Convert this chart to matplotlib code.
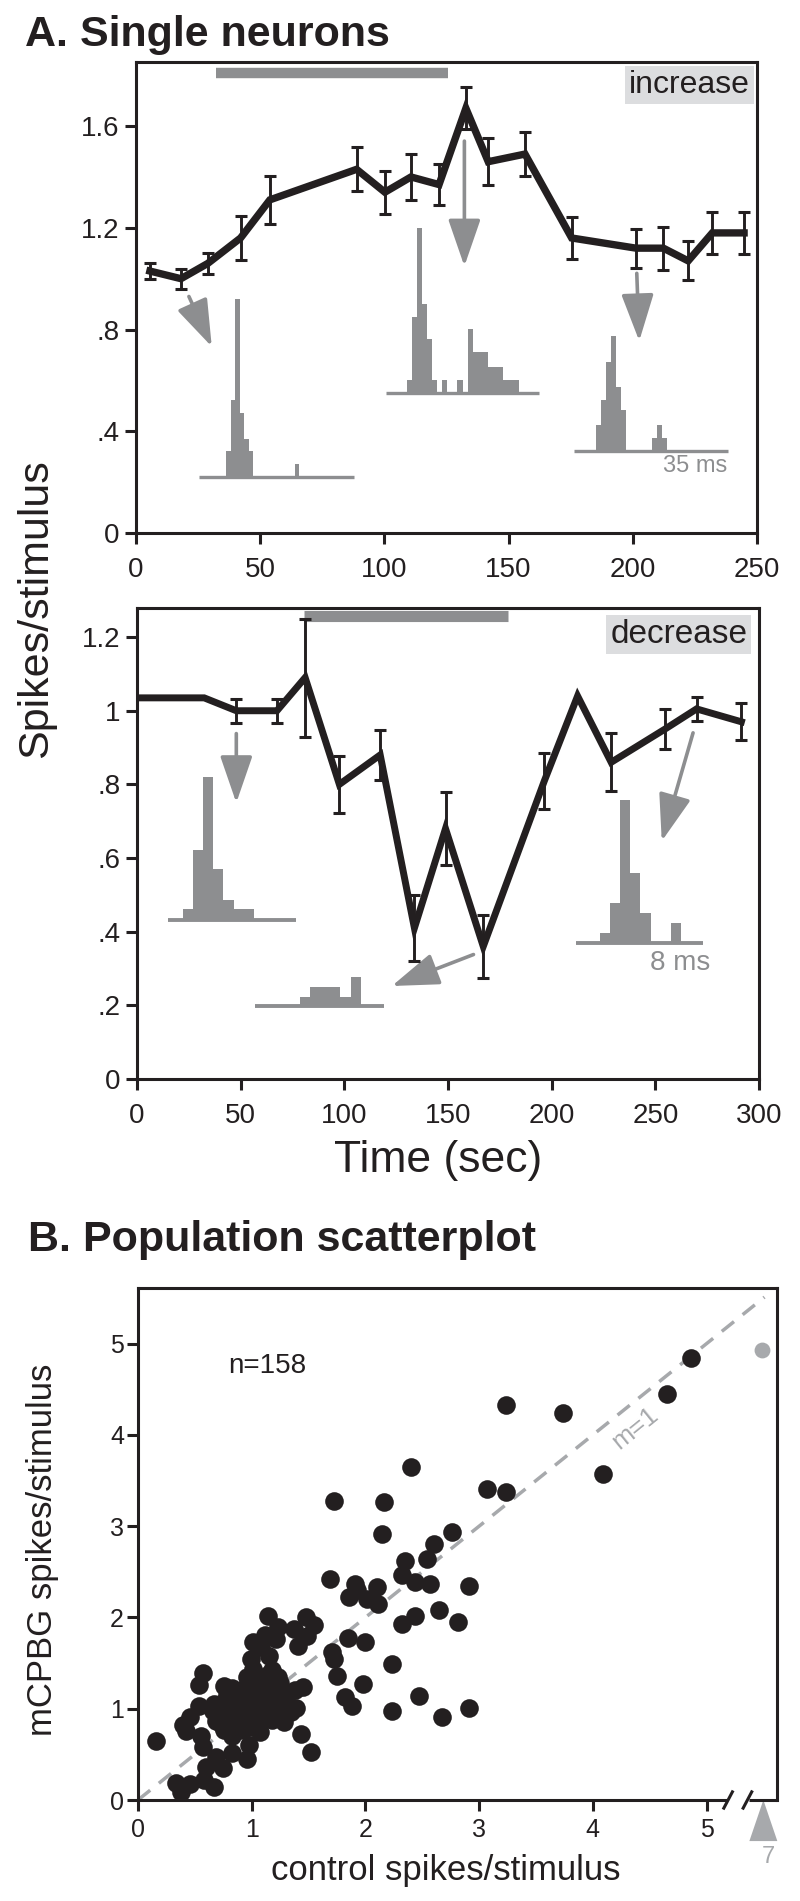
import numpy as np
import matplotlib
matplotlib.use('Agg')
import matplotlib.pyplot as plt
from matplotlib import rcParams
from matplotlib.patches import Polygon

# global style
config = {
    "font.family": ['Liberation Sans', 'DejaVu Sans'],
    "font.size": 20,
    "axes.linewidth": 2.2,
    "xtick.major.width": 2.2,
    "ytick.major.width": 2.2,
    "xtick.major.size": 8,
    "ytick.major.size": 8,
    "xtick.direction": 'out',
    "ytick.direction": 'out',
    "axes.unicode_minus": False,
}
rcParams.update(config)

BLACK = '#231f20'
GRAY = '#8d8e90'
LIGHT = '#a7a9ac'
BOX = '#dcdddf'

# ---- A, upper: "increase" neuron ----
t_inc = [5.6, 18.1, 28.9, 42.1, 53.9, 88.8, 100.2, 110.7, 122.0, 132.8,
         141.8, 156.6, 175.4, 201.3, 212.3, 222.3, 232.0, 244.8]
y_inc = [1.03, 1.00, 1.06, 1.16, 1.31, 1.43, 1.34, 1.40, 1.37, 1.67,
         1.46, 1.49, 1.16, 1.12, 1.12, 1.07, 1.18, 1.18]
e_inc = [0.03, 0.04, 0.04, 0.085, 0.095, 0.087, 0.085, 0.092, 0.082, 0.082,
         0.093, 0.085, 0.082, 0.077, 0.085, 0.077, 0.084, 0.084]
stim_inc = (32.1, 125.5)

# PSTH insets (upper): bar heights in spikes/stimulus units
hist_inc1 = [0.10, 0.30, 0.70, 0.25, 0.15, 0.10, 0, 0, 0, 0, 0, 0, 0, 0, 0, 0.05]
hist_inc2 = [0.05, 0.30, 0.65, 0.35, 0.21, 0.05, 0, 0.05, 0, 0, 0.05, 0, 0.25,
             0.16, 0.16, 0.16, 0.10, 0.10, 0.10, 0.05, 0.05, 0.05]
hist_inc3 = [0.10, 0.20, 0.35, 0.45, 0.25, 0.16, 0, 0, 0, 0, 0, 0.05, 0.10, 0.05]

# ---- A, lower: "decrease" neuron ----
t_dec = [0, 32.4, 47.9, 67.5, 81.1, 97.6, 117.3, 133.8, 148.8, 167.0,
         196.5, 212.5, 228.7, 254.6, 269.9, 291.5]
y_dec = [1.035, 1.035, 1.0, 1.0, 1.09, 0.80, 0.88, 0.41, 0.68, 0.36,
         0.81, 1.04, 0.86, 0.95, 1.005, 0.97]
e_dec = [0, 0, 0.032, 0.032, 0.16, 0.077, 0.069, 0.089, 0.10, 0.085,
         0.076, 0, 0.079, 0.055, 0.033, 0.05]
stim_dec = (80.4, 178.9)

hist_dec1 = [0.03, 0.19, 0.39, 0.14, 0.055, 0.03, 0.03]
hist_dec2 = [0.025, 0.054, 0.054, 0.054, 0.025, 0.08]
hist_dec3 = [0.027, 0.108, 0.388, 0.191, 0.081, 0, 0, 0.054]

# ---- B: population scatter ----
ctrl = [4.86, 4.65, 3.24, 3.74, 4.09, 2.40, 3.07, 3.24, 1.72, 2.16, 2.15, 2.76, 2.60,
        2.35, 2.54, 2.32, 2.44, 2.57, 2.91, 1.69, 1.91, 1.93, 1.86, 2.10, 2.01, 2.11,
        2.44, 2.32, 2.65, 2.81, 1.85, 2.00, 1.71, 1.72, 1.75, 2.23, 1.98, 1.82, 1.88,
        2.47, 2.23, 2.67, 2.91,
        1.48, 1.55, 1.37, 1.41, 1.49, 1.45, 1.39, 1.43, 1.52, 1.38,
        1.14, 1.23, 1.21, 1.12, 1.15, 1.01, 0.99, 1.01, 1.08, 1.15, 1.03, 1.24, 1.28,
        1.28, 1.12, 0.96, 0.98, 1.07, 0.90, 0.99, 0.92,
        0.16, 0.40, 0.46, 0.42, 0.54, 0.57, 0.55, 0.57, 0.60, 0.69, 0.75, 0.83, 0.33,
        0.38, 0.46, 0.58, 0.67, 0.54, 0.67, 0.76, 0.80, 0.69, 0.78, 0.85, 0.83, 0.86,
        0.92, 0.90, 0.72, 0.77, 0.83, 0.94, 1.03, 1.10, 1.16, 1.21, 1.30, 1.32, 1.16,
        1.05, 0.96, 0.76, 0.83, 0.89, 1.03, 1.07, 0.96, 1.23,
        0.72, 0.75, 0.80, 0.82, 0.86, 0.88, 0.90, 0.92, 0.95, 0.97, 1.00, 1.02, 1.05,
        1.08, 1.10, 1.12, 1.15, 1.18, 1.20, 1.22, 0.78, 0.84, 0.93, 1.00, 1.06, 0.70,
        0.74, 0.98, 1.12, 1.18, 1.25, 1.30, 1.35, 0.66, 1.00]
mcpbg = [4.84, 4.45, 4.33, 4.24, 3.57, 3.65, 3.41, 3.37, 3.28, 3.26, 2.92, 2.94, 2.81,
         2.62, 2.64, 2.47, 2.39, 2.37, 2.35, 2.42, 2.37, 2.30, 2.22, 2.33, 2.20, 2.15,
         2.02, 1.93, 2.08, 1.95, 1.78, 1.73, 1.62, 1.54, 1.36, 1.49, 1.27, 1.13, 1.03,
         1.14, 0.97, 0.91, 1.01,
         2.00, 1.92, 1.87, 1.69, 1.80, 1.24, 1.01, 0.72, 0.53, 1.20,
         2.02, 1.90, 1.76, 1.81, 1.58, 1.73, 1.54, 1.43, 1.68, 1.38, 1.28, 1.25, 1.03,
         0.86, 0.95, 0.45, 0.60, 0.75, 0.77, 1.00, 1.15,
         0.65, 0.82, 0.91, 0.76, 1.26, 1.39, 0.70, 0.58, 0.36, 0.47, 0.35, 0.51, 0.19,
         0.09, 0.18, 0.22, 0.14, 1.03, 1.05, 1.25, 1.13, 0.87, 0.85, 0.90, 1.05, 0.98,
         0.95, 1.03, 0.95, 0.96, 1.23, 1.23, 1.13, 1.08, 1.13, 1.05, 1.16, 1.00, 0.95,
         0.87, 0.85, 0.77, 0.70, 0.82, 0.98, 1.35, 1.35, 1.35,
         1.05, 1.00, 0.92, 1.00, 1.10, 0.88, 1.18, 1.05, 0.90, 1.10, 0.92, 1.05, 0.98,
         1.20, 0.90, 1.10, 1.00, 0.88, 1.20, 0.95, 1.15, 0.80, 0.78, 0.80, 0.84, 0.90,
         0.82, 1.28, 1.32, 1.42, 1.28, 1.10, 0.96, 0.98, 1.10]
# cell whose control rate (7) is off the x scale
off_ctrl = 7
off_mcpbg = 4.93

fig = plt.figure(figsize=(8, 19.01), dpi=100)
ax1 = fig.add_axes([136 / 800, 1 - 533 / 1901, 621 / 800, 471 / 1901])
ax2 = fig.add_axes([137 / 800, 1 - 1079 / 1901, 622 / 800, 471 / 1901])
ax3 = fig.add_axes([138 / 800, 1 - 1800 / 1901, 639 / 800, 512 / 1901])


def draw_trace(ax, t, y, e, lw):
    t, y, e = np.asarray(t), np.asarray(y), np.asarray(e)
    ax.plot(t, y, color=BLACK, lw=lw, solid_joinstyle='miter', zorder=4)
    m = e > 0
    ax.errorbar(t[m], y[m], yerr=e[m], fmt='none', ecolor=BLACK,
                elinewidth=2.1, capsize=4.2, capthick=2.2, zorder=4)


def draw_hist(ax, heights, start, width, base, span, lw):
    # baseline then bars
    ax.plot(span, [base, base], color=GRAY, lw=lw, solid_capstyle='butt', zorder=2)
    left = start + width * np.arange(len(heights))
    ax.bar(left, heights, width=width, bottom=base, align='edge',
           color=GRAY, linewidth=0, zorder=2)


def draw_arrow(ax, start, tip):
    ax.annotate('', xy=tip, xytext=start,
                arrowprops=dict(arrowstyle='-|>,head_length=2.9,head_width=1.0',
                                color=GRAY, lw=2.6, shrinkA=0, shrinkB=0,
                                mutation_scale=10), zorder=3)


# ----- upper panel -----
draw_trace(ax1, t_inc, y_inc, e_inc, 5.3)
ax1.plot(stim_inc, [1.807, 1.807], color=GRAY, lw=7.5, solid_capstyle='butt')
draw_hist(ax1, hist_inc1, 36.2, 1.85, 0.221, (25.4, 87.6), 2.4)
draw_hist(ax1, hist_inc2, 108.9, 2.05, 0.551, (100.7, 162.4), 2.4)
draw_hist(ax1, hist_inc3, 185.1, 2.05, 0.3235, (176.3, 238.3), 2.4)
draw_arrow(ax1, (21.3, 0.930), (30.5, 0.733))
draw_arrow(ax1, (132.2, 1.541), (132.2, 1.049))
draw_arrow(ax1, (201.6, 1.021), (202.6, 0.755))
ax1.text(237.9, 0.263, '35 ms', color=GRAY, fontsize=17, ha='right', va='center')
ax1.text(0.989, 0.951, 'increase', transform=ax1.transAxes, ha='right', va='center',
         fontsize=23, color=BLACK,
         bbox=dict(boxstyle='square,pad=0.12', fc=BOX, ec='none'))
ax1.set_xlim(0, 250)
ax1.set_ylim(0, 1.852)
ax1.set_xticks([0, 50, 100, 150, 200, 250])
ax1.set_yticks([0, 0.4, 0.8, 1.2, 1.6])
ax1.set_yticklabels(['0', '.4', '.8', '1.2', '1.6'])

# ----- lower panel -----
draw_trace(ax2, t_dec, y_dec, e_dec, 5.0)
ax2.plot(stim_dec, [1.257, 1.257], color=GRAY, lw=8, solid_capstyle='butt')
draw_hist(ax2, hist_dec1, 22.0, 4.92, 0.431, (15.1, 76.7), 2.8)
draw_hist(ax2, hist_dec2, 78.4, 4.92, 0.197, (57.0, 119.0), 2.8)
draw_hist(ax2, hist_dec3, 223.1, 4.92, 0.369, (211.5, 273.1), 2.8)
draw_arrow(ax2, (47.9, 0.938), (47.9, 0.750))
draw_arrow(ax2, (162.3, 0.338), (122.9, 0.2525))
draw_arrow(ax2, (268.2, 0.940), (253.1, 0.646))
ax2.text(276.4, 0.315, '8 ms', color=GRAY, fontsize=20, ha='right', va='center')
ax2.text(0.9815, 0.943, 'decrease', transform=ax2.transAxes, ha='right', va='center',
         fontsize=24, color=BLACK,
         bbox=dict(boxstyle='square,pad=0.12', fc=BOX, ec='none'))
ax2.set_xlim(0, 300)
ax2.set_ylim(0, 1.279)
ax2.set_xticks([0, 50, 100, 150, 200, 250, 300])
ax2.set_yticks([0, 0.2, 0.4, 0.6, 0.8, 1.0, 1.2])
ax2.set_yticklabels(['0', '.2', '.4', '.6', '.8', '1', '1.2'])

for ax in (ax1, ax2):
    for s in ax.spines.values():
        s.set_color(BLACK)
    ax.tick_params(labelsize=20, colors=BLACK, length=8)
    ax.tick_params(axis='x', pad=9)
    ax.tick_params(axis='y', pad=4)

# ----- scatter -----
ax3.scatter(ctrl, mcpbg, s=180, color=BLACK, linewidths=0, zorder=3)
x_break = 5.49
ax3.scatter([x_break], [off_mcpbg], s=130, color=LIGHT, linewidths=0, zorder=3)
ax3.plot([0, 5.51], [0, 5.51], ls=(0, (4.5, 3.2)), color=LIGHT, lw=2.5, zorder=2)
ax3.text(4.37, 4.07, 'm=1', color=LIGHT, fontsize=19, rotation=39,
         ha='center', va='center', rotation_mode='anchor')
ax3.text(0.79, 4.75, 'n=158', fontsize=20, ha='left', va='center', color=BLACK)
ax3.set_xlim(0, 5.62)
ax3.set_ylim(0, 5.61)
ax3.set_xticks(range(6))
ax3.set_yticks(range(6))

# broken x axis
ax3.spines['bottom'].set_visible(False)
for s in ('left', 'top', 'right'):
    ax3.spines[s].set_color(BLACK)
ax3.plot([0, 5.18], [0, 0], color=BLACK, lw=2.2, clip_on=False, solid_capstyle='butt')
ax3.plot([5.37, 5.62], [0, 0], color=BLACK, lw=2.2, clip_on=False, solid_capstyle='butt')
for xb in (5.19, 5.36):
    ax3.plot([xb - 0.044, xb + 0.044], [-0.104, 0.104], color=BLACK, lw=2.2,
             clip_on=False, solid_capstyle='butt')
ax3.add_patch(Polygon([[x_break + 0.01, 0], [x_break - 0.113, -0.45], [x_break + 0.133, -0.45]],
                      closed=True, fc=LIGHT, ec='none', clip_on=False))
ax3.text(x_break + 0.05, -0.63, str(off_ctrl), color=LIGHT, fontsize=17,
         ha='center', va='center')
ax3.tick_params(labelsize=18, colors=BLACK, length=8)
ax3.tick_params(axis='x', pad=5)
ax3.tick_params(axis='y', pad=2)

# titles and axis labels
fig.text(25 / 800, 1 - 46 / 1901, 'A. Single neurons', fontsize=31,
         fontweight='bold', va='baseline', color=BLACK)
fig.text(28 / 800, 1 - 1251 / 1901, 'B. Population scatterplot', fontsize=31,
         fontweight='bold', va='baseline', color=BLACK)
fig.text(36 / 800, 1 - 609 / 1901, 'Spikes/stimulus', fontsize=31, rotation=90,
         ha='center', va='center', color=BLACK)
fig.text(438 / 800, 1 - 1172 / 1901, 'Time (sec)', fontsize=32,
         ha='center', va='baseline', color=BLACK)
fig.text(43 / 800, 1 - 1550 / 1901, 'mCPBG spikes/stimulus', fontsize=25, rotation=90,
         ha='center', va='center', color=BLACK)
fig.text(446 / 800, 1 - 1880 / 1901, 'control spikes/stimulus', fontsize=25,
         ha='center', va='baseline', color=BLACK)

fig.savefig('out.png', dpi=100)
